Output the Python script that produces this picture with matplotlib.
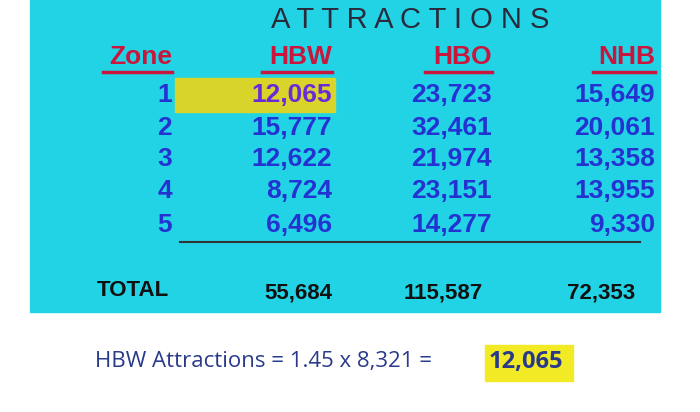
import matplotlib
matplotlib.use("Agg")
import matplotlib.pyplot as plt
from matplotlib.patches import Rectangle

zones = ["1", "2", "3", "4", "5"]
columns = ["HBW", "HBO", "NHB"]
hbw = ["12,065", "15,777", "12,622", "8,724", "6,496"]
hbo = ["23,723", "32,461", "21,974", "23,151", "14,277"]
nhb = ["15,649", "20,061", "13,358", "13,955", "9,330"]
totals = ["55,684", "115,587", "72,353"]

W, H = 700, 412
fig = plt.figure(figsize=(7, 4.12), dpi=100)
ax = fig.add_axes([0, 0, 1, 1])
ax.set_xlim(0, W); ax.set_ylim(H, 0); ax.axis("off")
fig.patch.set_facecolor("white")
ax.add_patch(Rectangle((30, 0), 630, 312, color="#22d3e6", zorder=0))

FONT = "Liberation Sans"
red = "#c8163c"; blue = "#2532d2"
ax.text(410, 20, "A T T R A C T I O N S", ha="center", va="center", fontsize=21, color="#2a2a3a", family=FONT)
col_x = [172, 332, 492, 655]
for x, h in zip(col_x, ["Zone"] + columns):
    ax.text(x, 57, h, ha="right", va="center", fontsize=19, color=red, family=FONT, weight="bold")
for x0, x1 in [(103, 172), (262, 332), (425, 492), (593, 655)]:
    ax.plot([x0, x1], [72, 72], color=red, lw=2.5)

ax.add_patch(Rectangle((175, 78), 160, 34, color="#d8d42a", zorder=1))
row_y = [95, 128, 159, 191, 225]
for i, y in enumerate(row_y):
    ax.text(col_x[0], y, zones[i], ha="right", va="center", fontsize=19, color=blue, family=FONT, weight="bold")
    for j, vals in enumerate([hbw, hbo, nhb]):
        c = "#6a2ad8" if (i == 0 and j == 0) else blue
        ax.text(col_x[j + 1], y, vals[i], ha="right", va="center", fontsize=19, color=c, family=FONT, weight="bold", zorder=2)
ax.plot([180, 640], [242, 242], color="#333333", lw=1.5)

ax.text(97, 290, "TOTAL", ha="left", va="center", fontsize=16, color="#111111", family=FONT, weight="bold")
for x, v in zip([332, 483, 635], totals):
    ax.text(x, 293, v, ha="right", va="center", fontsize=16, color="#111111", family=FONT, weight="bold")

ax.text(95, 362, "HBW Attractions = 1.45 x 8,321 = ", ha="left", va="center", fontsize=16, color="#2a3a8a", family="Open Sans")
ax.add_patch(Rectangle((485, 345), 88, 36, color="#f2ea24", zorder=1))
ax.text(489, 362, "12,065", ha="left", va="center", fontsize=17, color="#2a3a8a", weight="bold", family="Open Sans", zorder=2)

fig.savefig("out.png", dpi=100)
